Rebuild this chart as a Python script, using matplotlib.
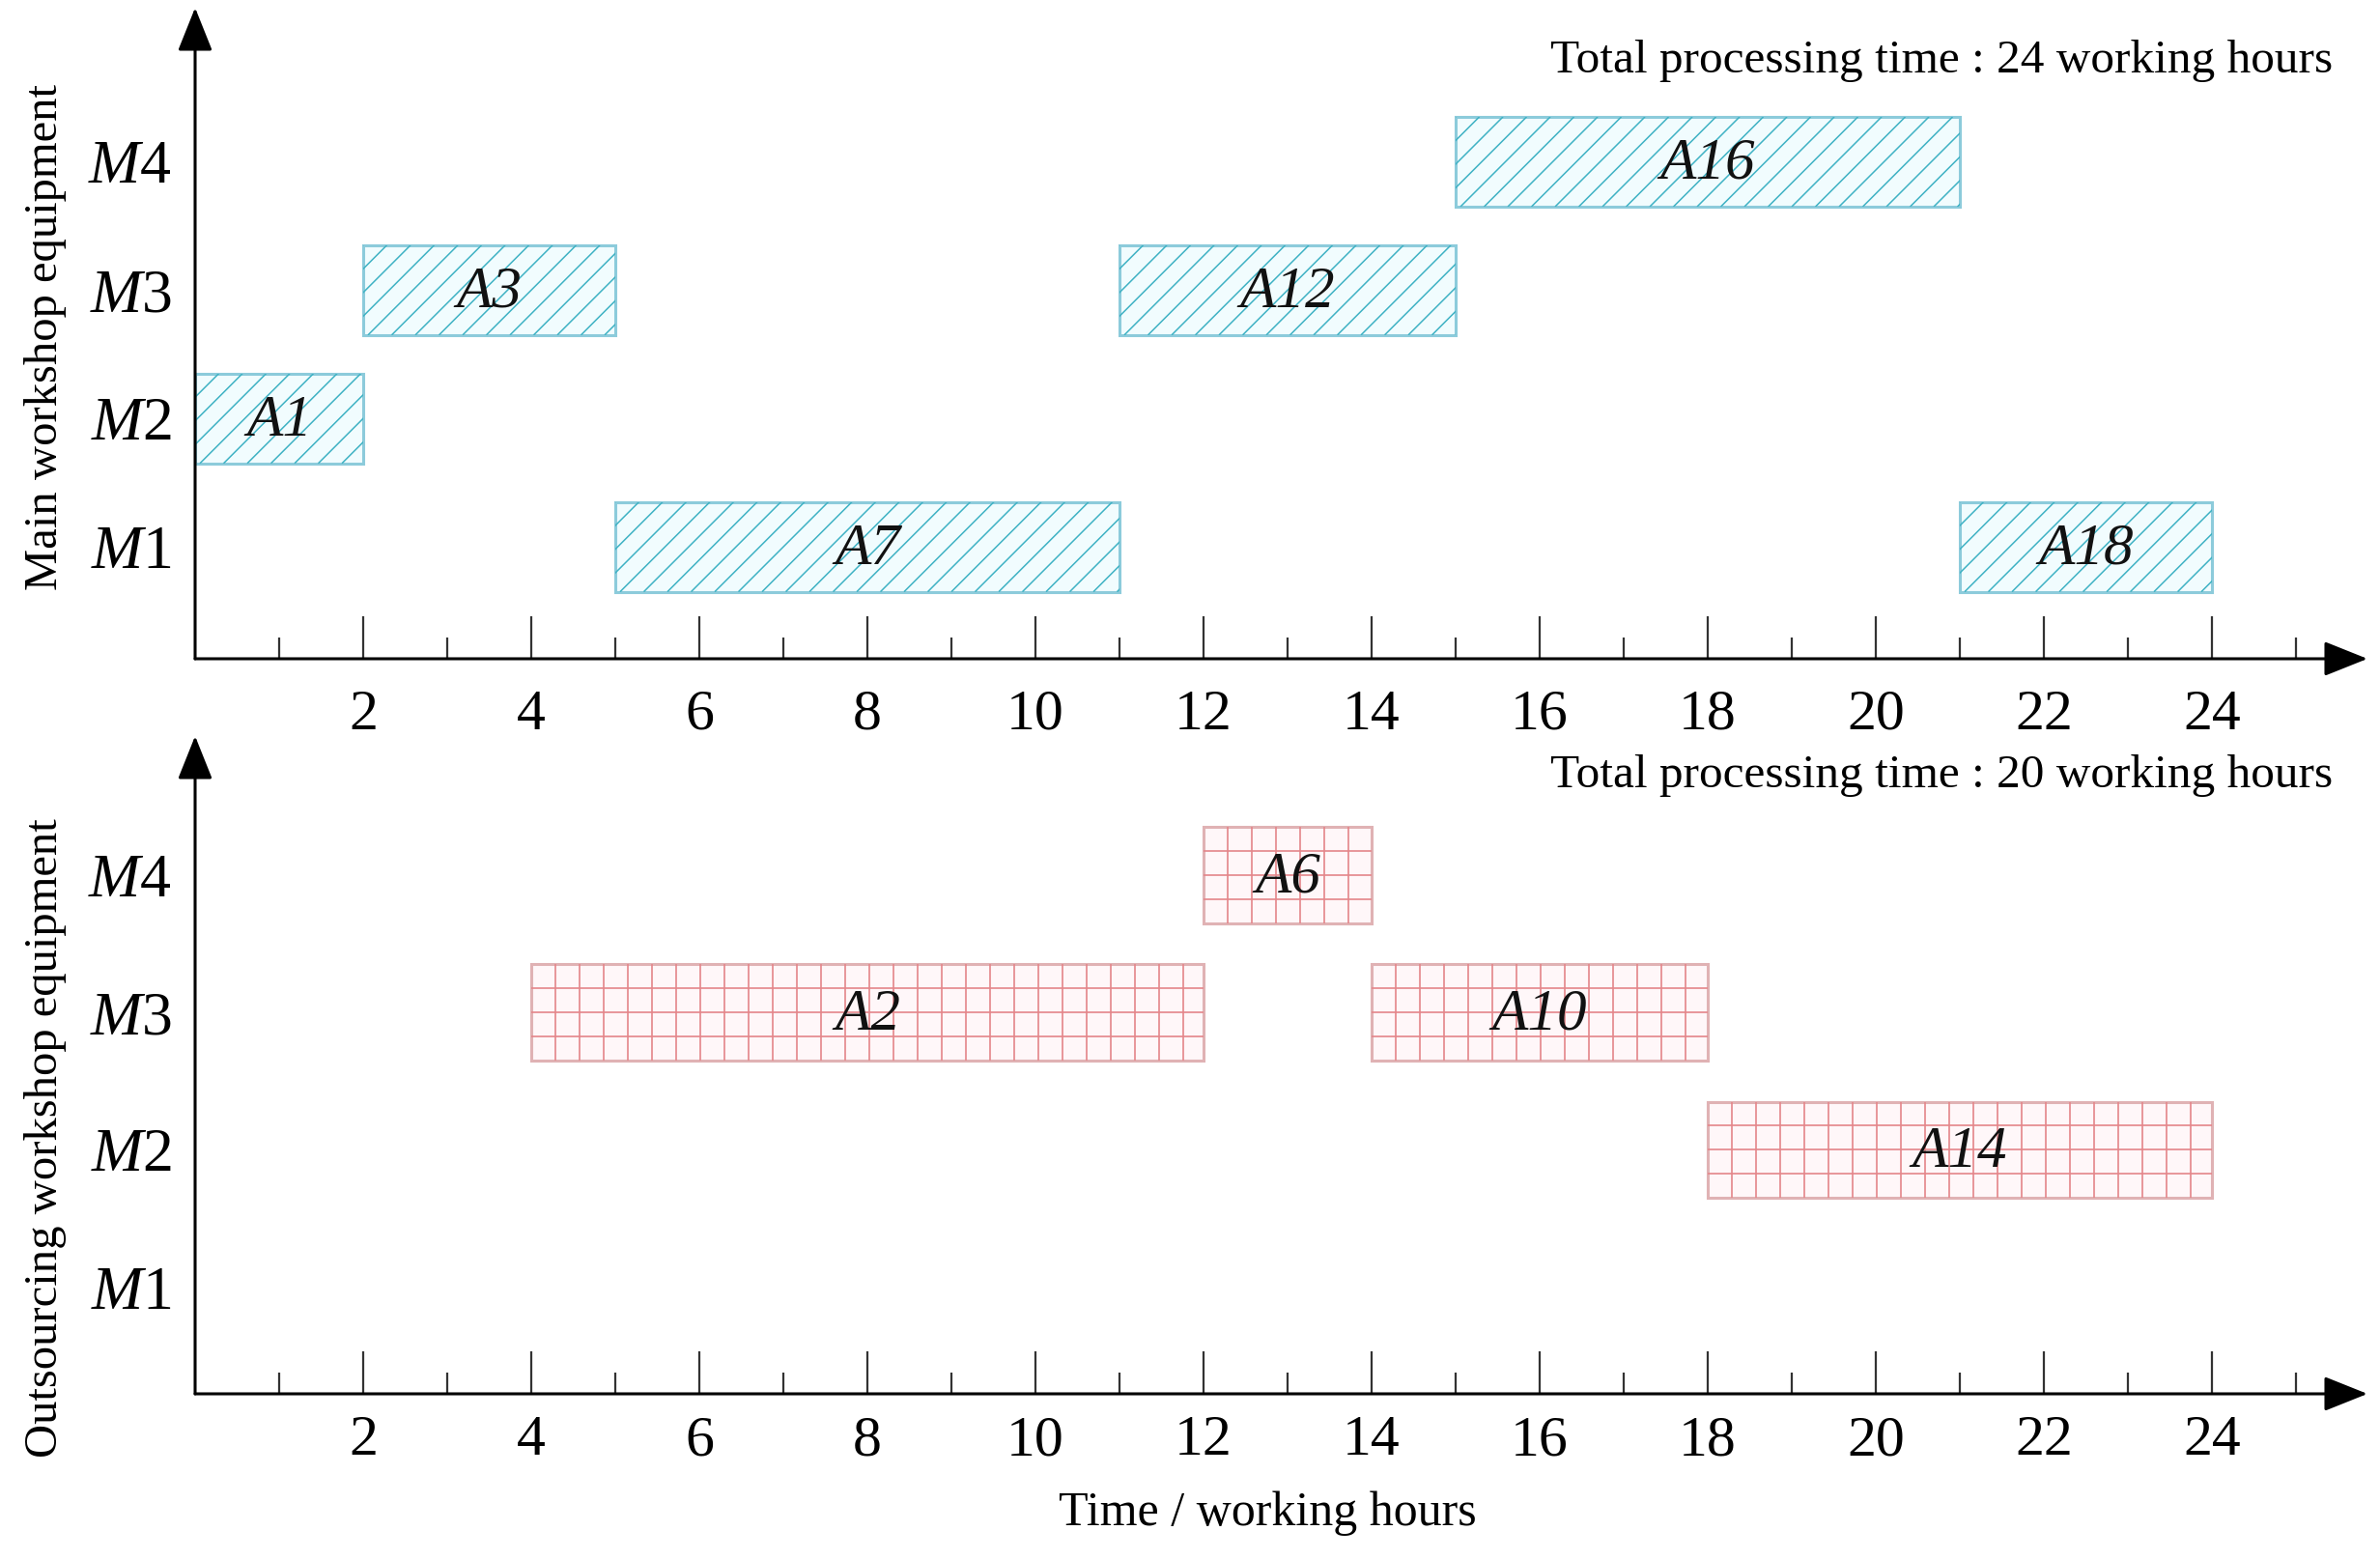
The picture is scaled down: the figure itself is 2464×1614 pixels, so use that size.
import numpy as np
import matplotlib.pyplot as plt
from matplotlib.collections import LineCollection

# ---- data ----
machines = ["M1", "M2", "M3", "M4"]
hour_ticks = list(range(2, 25, 2))

# main workshop: task, machine row (1..4), start, duration
main_tasks = ["A1", "A3", "A7", "A12", "A16", "A18"]
main_rows = [2, 3, 1, 3, 4, 1]
main_start = [0, 2, 5, 11, 15, 21]
main_dur = [2, 3, 6, 4, 6, 3]

# outsourcing workshop
out_tasks = ["A6", "A2", "A10", "A14"]
out_rows = [4, 3, 3, 2]
out_start = [12, 4, 14, 18]
out_dur = [2, 8, 4, 6]

main_total = 24
out_total = 20

plt.rcParams['font.family'] = ['Liberation Serif', 'DejaVu Serif']
plt.rcParams['mathtext.fontset'] = 'custom'
plt.rcParams['mathtext.rm'] = 'Liberation Serif'
plt.rcParams['mathtext.it'] = 'Liberation Serif:italic'

W, H = 2464, 1614
fig = plt.figure(figsize=(W / 100, H / 100), dpi=100)

XMAX = 25.85
BAR_H = 0.7
AX_W = 2249  # axes width in px


def setup_axis(ax, ylo, yhi, pad):
    ax.set_xlim(0, XMAX)
    ax.set_ylim(ylo, yhi)
    for s in ax.spines.values():
        s.set_visible(False)
    ax.set_facecolor('none')
    # arrows for the two axes
    arrow = dict(arrowstyle='-|>,head_length=1.0,head_width=0.4',
                 color='black', lw=2.2, mutation_scale=28,
                 shrinkA=0, shrinkB=0)
    ax.annotate('', xy=(1, 0), xytext=(0, 0), xycoords='axes fraction',
                arrowprops=arrow)
    ax.annotate('', xy=(0, 1), xytext=(0, 0), xycoords='axes fraction',
                arrowprops=arrow)
    ax.set_xticks(hour_ticks)
    ax.set_xticks(range(1, 26, 2), minor=True)
    ax.set_xticklabels([str(t) for t in hour_ticks])
    ax.tick_params(axis='x', which='major', direction='in', length=32,
                   width=1.6, color='#333333', labelsize=43, pad=pad)
    ax.tick_params(axis='x', which='minor', direction='in', length=16,
                   width=1.6, color='#333333')
    ax.set_yticks(range(1, 5))
    ax.set_yticklabels(['$' + m[0] + '$' + m[1:] for m in machines])
    ax.tick_params(axis='y', length=0, labelsize=46, pad=17)


def task_labels(ax, tasks, rows, start, dur):
    for t, r, s, d in zip(tasks, rows, start, dur):
        ax.text(s + d / 2, r - 0.02, t, ha='center', va='center',
                fontsize=44, fontstyle='italic', color='#111111')


def draw_hatched(ax, tasks, rows, start, dur, ax_h):
    bars = ax.barh(rows, dur, left=start, height=BAR_H, color='#f1fcfe',
                   edgecolor='#8ccbdb', linewidth=2.2)
    ylo, yhi = ax.get_ylim()
    px_x = AX_W / XMAX
    px_y = ax_h / (yhi - ylo)
    run = BAR_H * px_y / px_x     # 45 degree lines across the bar
    step = 24.5 / px_x            # spacing of the hatch lines
    for bar, r, s, d in zip(bars, rows, start, dur):
        x0 = np.arange(s - run, s + d, step)
        segs = [[(x, r - BAR_H / 2), (x + run, r + BAR_H / 2)] for x in x0]
        lc = LineCollection(segs, colors='#3fb2c4', linewidths=1.1)
        ax.add_collection(lc)
        lc.set_clip_path(bar)
    task_labels(ax, tasks, rows, start, dur)


def draw_grid(ax, tasks, rows, start, dur):
    ax.barh(rows, dur, left=start, height=BAR_H, color='#fff7f9',
            edgecolor='#e0b2b4', linewidth=2.2)
    step = 25 / (AX_W / XMAX)  # grid cell in hours
    for r, s, d in zip(rows, start, dur):
        xs = np.arange(s + step, s + d - step * 0.3, step)
        ax.vlines(xs, r - BAR_H / 2, r + BAR_H / 2, color='#e4868a', lw=1.2)
        ys = r - BAR_H / 2 + BAR_H / 4 * np.arange(1, 4)
        ax.hlines(ys, s, s + d, color='#e4868a', lw=1.2)
    task_labels(ax, tasks, rows, start, dur)


# ---- top: main workshop ----
ax1 = fig.add_axes([202 / W, 1 - 682 / H, AX_W / W, 674 / H])
setup_axis(ax1, 0.128, 5.2, pad=23)
draw_hatched(ax1, main_tasks, main_rows, main_start, main_dur, 674)

# ---- bottom: outsourcing workshop ----
ax2 = fig.add_axes([202 / W, 1 - 1443 / H, AX_W / W, 681 / H])
setup_axis(ax2, 0.225, 5.01, pad=16)
draw_grid(ax2, out_tasks, out_rows, out_start, out_dur)

fig.text(2415 / W, 1 - 63 / H,
         f"Total processing time : {main_total} working hours",
         ha='right', va='center', fontsize=35.5)
fig.text(2415 / W, 1 - 803 / H,
         f"Total processing time : {out_total} working hours",
         ha='right', va='center', fontsize=35.5)

fig.text(47 / W, 1 - 349 / H, "Main workshop equipment", rotation=90,
         ha='center', va='center', fontsize=35)
fig.text(47 / W, 1 - 1178 / H, "Outsourcing workshop equipment", rotation=90,
         ha='center', va='center', fontsize=35)
fig.text(1312 / W, 1 - 1567 / H, "Time / working hours",
         ha='center', va='center', fontsize=36)

fig.savefig('out.png', dpi=100, facecolor='white')
